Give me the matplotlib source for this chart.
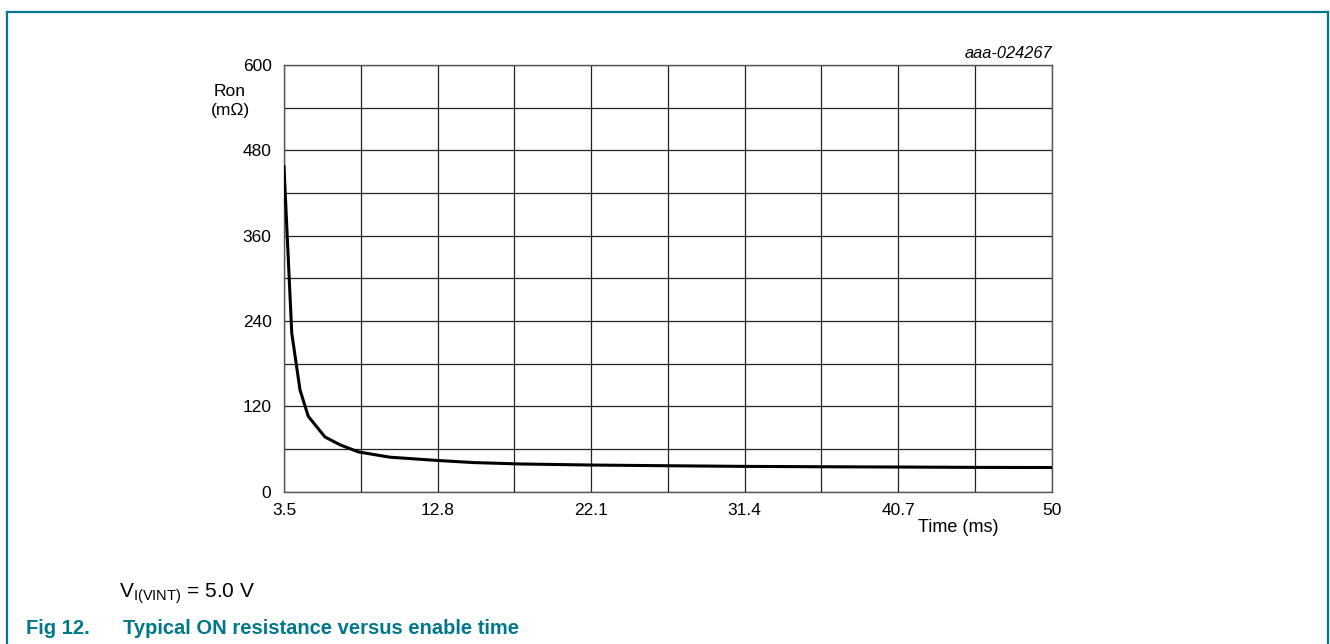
import matplotlib
matplotlib.use("Agg")
import matplotlib.pyplot as plt
from matplotlib.lines import Line2D
import numpy as np

plt.rcParams['font.family'] = ['Liberation Sans', 'DejaVu Sans']
plt.rcParams['mathtext.fontset'] = 'custom'
plt.rcParams['mathtext.rm'] = 'Liberation Sans'

# values
time_ms = [3.5, 3.97, 4.47, 4.97, 5.98, 6.89, 8.0, 9.92, 12.75, 14.95,
           17.8, 22.1, 26.75, 31.4, 36.05, 40.7, 45.35, 50.0]
ron_mohm = [457, 223, 143, 106, 77, 66, 56, 48.5, 44, 41,
            39, 37.5, 36.5, 35.6, 35.1, 34.7, 34.2, 34.0]

x_labels = [3.5, 12.8, 22.1, 31.4, 40.7, 50]
x_grid = [3.5, 8.15, 12.8, 17.45, 22.1, 26.75, 31.4, 36.05, 40.7, 45.35, 50]
y_labels = [0, 120, 240, 360, 480, 600]
y_grid = [0, 60, 120, 180, 240, 300, 360, 420, 480, 540, 600]

teal = '#00788A'

W, H = 1330, 644
fig = plt.figure(figsize=(W / 100, H / 100), dpi=100)
fig.patch.set_facecolor('white')

# teal frame (top, left, right; open at bottom)
fx0, fx1, fy = 7 / W, 1328 / W, 1 - 12 / H
for xs, ys in [([fx0, fx1], [fy, fy]), ([fx0, fx0], [fy, 0]), ([fx1, fx1], [fy, 0])]:
    fig.add_artist(Line2D(xs, ys, color=teal, lw=1.6, transform=fig.transFigure))

ax = fig.add_axes([284 / W, 1 - 491.7 / H, (1051.5 - 284) / W, (491.7 - 65) / H])
ax.set_xlim(3.5, 50)
ax.set_ylim(0, 600)

ax.set_xticks(x_labels)
ax.set_xticklabels([f"{v:g}" for v in x_labels])
ax.set_xticks(x_grid, minor=True)
ax.set_yticks(y_labels)
ax.set_yticks(y_grid, minor=True)
ax.tick_params(which='both', length=0, labelsize=12.5, colors='black')
ax.tick_params(axis='x', pad=8)
ax.tick_params(axis='y', pad=9)
ax.grid(which='both', color='#222222', lw=0.9)
for s in ax.spines.values():
    s.set_color('#555555')
    s.set_linewidth(1.0)

ax.plot(time_ms, ron_mohm, color='black', lw=2.2, solid_joinstyle='round', zorder=3)

fig.text(230 / W, 1 - 101 / H, "Ron\n(m\u03a9)", ha='center', va='center',
         fontsize=12.5, linespacing=1.4)
fig.text(1052 / W, 1 - 53 / H, "aaa-024267", ha='right', va='center',
         fontsize=11.8, style='italic')
fig.text(958 / W, 1 - 527 / H, "Time (ms)", ha='center', va='center', fontsize=13)
fig.text(119 / W, 1 - 598 / H, r"V$\mathregular{_{I(VINT)}}$ = 5.0 V",
         ha='left', va='baseline', fontsize=15)
fig.text(26 / W, 1 - 634 / H, "Fig 12.", ha='left', va='baseline',
         fontsize=14.5, fontweight='bold', color=teal)
fig.text(123 / W, 1 - 634 / H, "Typical ON resistance versus enable time",
         ha='left', va='baseline', fontsize=14.5, fontweight='bold', color=teal)

fig.savefig("out.png", dpi=100)
